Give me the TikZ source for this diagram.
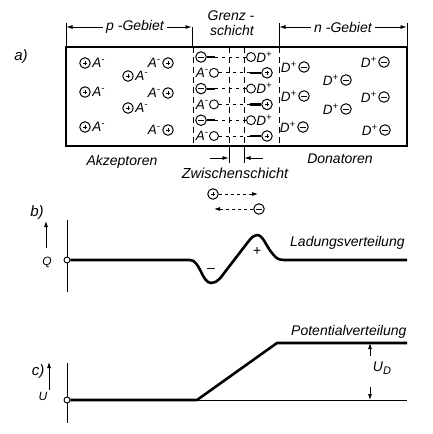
\documentclass[tikz,border=0pt]{standalone}
\usepackage{fontspec}
\setmainfont{Liberation Sans}
\usetikzlibrary{arrows.meta}
\newcommand\Am{A\textsuperscript{-}}
\newcommand\Dp{D\textsuperscript{+}}
\begin{document}
\begin{tikzpicture}[x=1pt,y=-1pt,
  >={Latex[length=6pt,width=4pt]},
  lab/.style={font=\itshape\fontsize{14}{16}\selectfont,inner sep=0pt},
  sym/.style={font=\itshape\fontsize{13.5}{15}\selectfont,inner sep=0pt},
  chg/.style={circle,draw,line width=1pt,minimum size=10.5pt,inner sep=0pt},
  poschg/.style={chg,path picture={\draw[line width=0.9pt]
     (path picture bounding box.center) ++(-2pt,0) -- ++(4pt,0)
     (path picture bounding box.center) ++(0,-2pt) -- ++(0,4pt);}},
  negchg/.style={chg,path picture={\draw[line width=0.9pt]
     (path picture bounding box.center) ++(-2.6pt,0) -- ++(5.2pt,0);}},
  hole/.style={circle,draw,line width=0.9pt,minimum size=9pt,inner sep=0pt},
  bar/.style={line width=2.2pt},
  bound/.style={line width=0.8pt,dash pattern=on 6pt off 4pt},
  dim/.style={line width=0.7pt},
  curve/.style={line width=2.6pt,line join=round},
  axis/.style={line width=0.8pt},
  ocirc/.style={circle,draw,fill=white,line width=0.9pt,minimum size=6pt,inner sep=0pt}]
\useasboundingbox (0,0) rectangle (432,434);

% ---------- a) ----------
\node[lab,font=\itshape\fontsize{15}{17}\selectfont] (la) at (21,57) {a)};
\draw[line width=1.4pt] (66,47) rectangle (407,146);

% top dimensions
\draw[dim] (66,23) -- (66,47);
\draw[dim] (192,27) -- (192,47);
\draw[dim] (279,23) -- (279,47);
\draw[dim] (407,23) -- (407,47);
\node[lab] (pg) at (135,27) {p -Gebiet};
\draw[dim,->] ([xshift=-3pt]pg.west) -- (66.5,27);
\draw[dim,->] ([xshift=3pt]pg.east) -- (191.5,27);
\node[lab] (gr) at (231,16) {Grenz -};
\node[lab] (sc) at (232,30) {schicht};
\node[lab] (ng) at (343,27) {n -Gebiet};
\draw[dim,->] ([xshift=-3pt]ng.west) -- (279.5,27);
\draw[dim,->] ([xshift=3pt]ng.east) -- (406.5,27);

% boundaries inside the box
\draw[bound] (193,47) -- (193,146);
\draw[bound] (229,47) -- (229,146);
\draw[bound] (244,47) -- (244,146);
\draw[bound] (279,47) -- (279,146);
\draw[dim] (229,146) -- (229,163);
\draw[dim] (244,146) -- (244,163);
\draw[dim,->] (210,158) -- (228.5,158);
\draw[dim,->] (263,158) -- (244.5,158);

% p region
\foreach \n/\x/\y in {1/85/63,2/128/76,3/85/92,4/128/108,5/85/127}{
  \node[poschg] (pp\n) at (\x,\y) {};
  \node[sym,anchor=west] (pa\n) at ([xshift=1.5pt]pp\n.east) {\Am};
}
\foreach \n/\x/\y in {6/168/63,7/168/93,8/168/130}{
  \node[poschg] (pp\n) at (\x,\y) {};
  \node[sym,anchor=east] (pa\n) at ([xshift=-1.5pt]pp\n.west) {\Am};
}
% n region
\foreach \n/\x/\y in {1/304/67,2/304/96,3/303/127,4/346/80,5/346/109,6/384/62,7/384/97,8/385/130}{
  \node[negchg] (nn\n) at (\x,\y) {};
  \node[sym,anchor=east] (nd\n) at ([xshift=-1.5pt]nn\n.west) {\Dp};
}
% junction
\foreach \k/\y in {0/57,2/88.6,4/120.2}{
  \node[negchg] (je\k) at (201,\y) {};
  \node[hole] (jo\k) at (251,\y) {};
  \node[sym,anchor=west] (jd\k) at ([xshift=0.3pt]jo\k.east) {\Dp};
  \draw[bar] (je\k.east) -- ++(8,0) coordinate (jb\k);
  \draw[dim,dash pattern=on 3pt off 4pt] (jb\k) -- (jo\k.west);
}
\foreach \k/\y in {1/72.8,3/104.4,5/136}{
  \node[hole] (ja\k) at (214,\y) {};
  \node[sym,anchor=east] (jA\k) at ([xshift=-0.3pt]ja\k.west) {\Am};
  \node[poschg] (jp\k) at (267,\y) {};
  \draw[bar] (jp\k.west) -- ++(-11,0) coordinate (jc\k);
  \draw[dim,dash pattern=on 3pt off 4pt] (ja\k.east) -- (jc\k);
}

\node[lab] (akz) at (122,162) {Akzeptoren};
\node[lab] (don) at (340,159) {Donatoren};
\node[lab,font=\itshape\fontsize{14.5}{16}\selectfont] (zw) at (235,173) {Zwischenschicht};

% carriers
\node[poschg] (cp) at (213,194) {};
\coordinate (cpe) at (258,194);
\draw[axis,dashed,->] (cp.east) -- (cpe);
\node[negchg] (cn) at (259,209) {};
\coordinate (cne) at (214,209);
\draw[axis,dashed,->] (cn.west) -- (cne);

% ---------- b) ----------
\node[lab,font=\itshape\fontsize{15}{17}\selectfont] (lb) at (37,213) {b)};
\draw[axis,->] (46,248) -- (46,221);
\node[lab,font=\itshape\fontsize{12}{14}\selectfont] (q) at (47,262) {Q};
\draw[axis] (67,220) -- (67,292);
\node[ocirc] (ob) at (67,260) {};
\draw[curve] (ob.east) -- (190,260)
  .. controls (200,260) and (202,283) .. (211,283)
  .. controls (218,283) and (221,277) .. (228,268)
  -- (248,242) .. controls (252,237) and (254,235) .. (257,235)
  .. controls (263,235) and (266,246) .. (272,253)
  .. controls (276,258) and (278,260) .. (284,260) -- (407,260);
\node[lab] (minus) at (211,270) {--};
\node[lab] (plus) at (257,251) {+};
\node[lab,anchor=west] (ldg) at (290,243) {Ladungsverteilung};

% ---------- c) ----------
\node[lab,font=\itshape\fontsize{15}{17}\selectfont] (lc) at (38,372) {c)};
\draw[axis,->] (49,390) -- (49,362);
\node[lab,font=\itshape\fontsize{12}{14}\selectfont] (u) at (43,396) {U};
\draw[axis] (67,363) -- (67,423);
\node[ocirc] (oc) at (67,400) {};
\draw[curve] (oc.east) -- (197,400) -- (277,343) -- (407,343);
\draw[axis] (197,400) -- (407,400);
\coordinate (ut) at (370,343);
\coordinate (ub) at (370,400);
\draw[axis,->] (370,356) -- (ut);
\draw[axis,->] (370,387) -- (ub);
\node[lab] (ud) at (382,368) {U\raisebox{-3pt}{\fontsize{11}{12}\selectfont D}};
\node[lab,anchor=west] (pot) at (291,332) {Potentialverteilung};
\end{tikzpicture}
\end{document}
